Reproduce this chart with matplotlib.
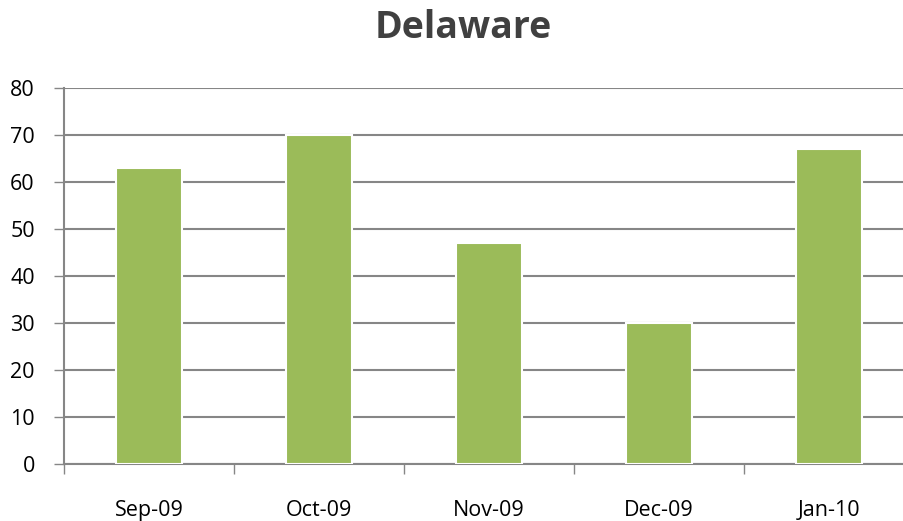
import numpy as np
import matplotlib.pyplot as plt

months = ["Sep-09", "Oct-09", "Nov-09", "Dec-09", "Jan-10"]
values = [63, 70, 47, 30, 67]
y_ticks = [0, 10, 20, 30, 40, 50, 60, 70, 80]

plt.rcParams['font.family'] = ['Open Sans', 'DejaVu Sans']

fig = plt.figure(figsize=(9.04, 5.21), dpi=100)
ax = fig.add_axes([64 / 904, 57 / 521, 850 / 904, 376 / 521])

x = np.arange(len(months))
ax.bar(x, values, width=0.39, color='#9bbb59', edgecolor='white', linewidth=1.5, zorder=3)

ax.set_xlim(-0.5, len(months) - 0.5)
ax.set_ylim(0, 80)
ax.set_yticks(y_ticks)
ax.yaxis.grid(True, color='#868686', linewidth=1.5, zorder=0)

# метки категорий по центру, засечки по границам
ax.set_xticks(np.arange(-0.5, len(months) + 0.5, 1))
ax.set_xticklabels([])
ax.set_xticks(x, minor=True)
ax.set_xticklabels(months, minor=True)
ax.tick_params(axis='x', which='major', length=7, color='#868686', width=1)
ax.tick_params(axis='x', which='minor', length=0, pad=26, labelsize=15.5)
ax.tick_params(axis='y', length=7, color='#868686', width=1, labelsize=15.5, pad=14)

for s in ['top', 'right']:
    ax.spines[s].set_visible(False)
ax.spines['left'].set_color('#868686')
ax.spines['bottom'].set_color('#868686')
ax.spines['left'].set_linewidth(1.5)
ax.spines['bottom'].set_linewidth(1.5)

fig.text(463 / 904, 1 - 28 / 521, "Delaware", ha='center', va='center',
         fontsize=27, fontweight='bold', color='#404040')

fig.savefig("out.png", dpi=100)
